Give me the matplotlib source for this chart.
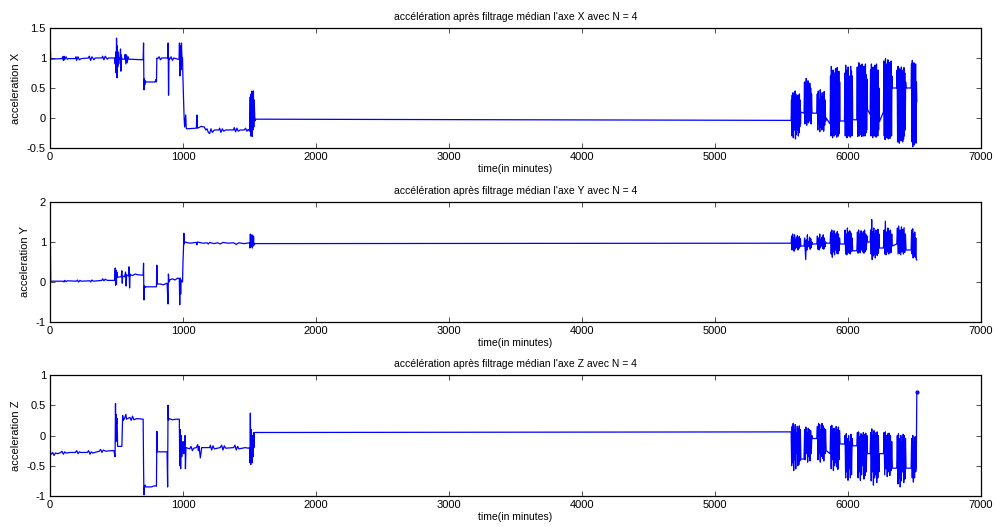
import numpy as np
import matplotlib
matplotlib.use("Agg")
import matplotlib.pyplot as plt

plt.rcParams['font.family'] = ['Liberation Sans', 'DejaVu Sans']

# early part of the recording (time in minutes, value)
x_time = [0, 2, 5, 90, 95, 100, 105, 110, 120, 130, 140, 190, 195, 200, 210, 220, 235,
          290, 295, 305, 315, 330, 340, 390, 395, 405, 415, 430, 440,
          485, 490, 494, 497, 500, 503, 506, 509, 512, 516, 520, 525, 530, 533, 536, 540,
          560, 565, 570, 575, 580, 586, 592, 700, 703, 706, 709, 712, 716, 720, 760, 790,
          795, 800, 803, 810, 820, 830, 840, 885, 888, 891, 894, 900, 910, 920, 930, 960,
          970, 973, 976, 980, 984, 988, 992, 996, 1000, 1004, 1008, 1012, 1016, 1020, 1024,
          1030, 1100, 1104, 1108, 1120, 1135, 1160, 1170, 1180, 1190, 1200, 1210, 1220, 1235,
          1270, 1275, 1285, 1295, 1305, 1320, 1380, 1385, 1395, 1405, 1415, 1430,
          1460, 1470, 1480, 1490, 1500, 1505, 1508, 1511, 1514, 1517, 1520, 1523, 1526,
          1529, 1532, 1535, 1540, 1545]
x_accel = [0.0, 1.2, 0.98, 0.99, 1.02, 0.96, 1.03, 0.97, 1.02, 0.98, 0.99, 0.99, 1.02, 0.96, 1.02, 0.97, 0.99,
           1.0, 1.03, 0.96, 1.02, 0.97, 1.0, 1.0, 1.03, 0.97, 1.03, 0.98, 1.0,
           1.0, 0.9, 1.1, 0.75, 1.33, 0.67, 1.2, 0.85, 1.1, 0.9, 1.0, 0.98, 1.15, 0.78, 1.05, 0.98,
           0.98, 1.06, 0.9, 1.05, 0.92, 1.02, 0.98, 0.97, 1.25, 0.47, 0.65, 0.55, 0.62, 0.6, 0.6, 0.6,
           0.64, 0.6, 1.0, 0.99, 1.02, 0.97, 1.0, 1.0, 1.25, 0.38, 1.0, 0.98, 1.02, 0.96, 1.0, 0.98,
           0.98, 1.25, 0.7, 1.2, 0.8, 1.25, 0.98, 1.0, 0.6, 0.3, 0.0, -0.15, -0.05, 0.05, -0.17,
           -0.18, -0.17, 0.05, -0.17, -0.16, -0.14, -0.15, -0.2, -0.18, -0.24, -0.26, -0.18, -0.24, -0.2,
           -0.2, -0.17, -0.24, -0.18, -0.22, -0.2, -0.2, -0.16, -0.23, -0.17, -0.22, -0.2,
           -0.2, -0.17, -0.22, -0.19, -0.22, 0.35, -0.3, 0.4, -0.25, 0.45, -0.31, 0.42, -0.2,
           0.45, -0.15, 0.3, -0.05, -0.02]

y_time = [0, 2, 5, 100, 105, 110, 120, 130, 200, 205, 215, 225, 235, 300, 305, 315, 325,
          390, 395, 405, 415, 430, 485, 490, 493, 496, 499, 502, 505, 535,
          540, 543, 546, 560, 568, 572, 576, 590, 594, 598, 602, 606, 620, 640, 660, 700,
          703, 706, 710, 714, 720, 790, 800, 803, 806, 830, 850, 880, 887, 890, 894, 900,
          920, 940, 960, 972, 975, 978, 982, 986, 996, 1000, 1003, 1006, 1009, 1012, 1050,
          1100, 1104, 1108, 1150, 1180, 1190, 1200, 1230, 1260, 1280, 1300, 1340, 1380, 1400,
          1420, 1460, 1500, 1503, 1506, 1509, 1512, 1515, 1518, 1521, 1524, 1527, 1530, 1533,
          1540, 1545]
y_accel = [0.0, 1.1, 0.02, 0.02, 0.0, 0.04, 0.01, 0.03, 0.02, 0.05, 0.0, 0.04, 0.02, 0.03, 0.0, 0.05, 0.02,
           0.04, 0.08, 0.03, 0.07, 0.04, 0.04, 0.35, -0.08, 0.3, -0.05, 0.25, 0.12, 0.13,
           0.28, -0.03, 0.15, 0.13, 0.25, -0.1, 0.18, 0.15, 0.38, -0.15, 0.2, 0.18, 0.16, 0.2, 0.18, 0.17,
           0.47, -0.45, -0.1, -0.14, -0.12, -0.12, -0.12, 0.42, -0.05, -0.05, -0.07, -0.03, -0.55, 0.2, 0.0, 0.05,
           0.08, 0.05, 0.1, 0.08, -0.57, 0.1, -0.3, 0.05, 0.0, 0.55, 0.8, 1.22, 0.95, 1.0, 0.97,
           0.99, 0.93, 1.0, 0.97, 0.98, 0.95, 0.99, 0.96, 0.98, 0.95, 0.99, 0.97, 0.98, 0.94,
           0.98, 0.96, 0.98, 0.85, 1.2, 0.88, 1.15, 0.9, 1.18, 0.85, 1.1, 0.9, 1.15, 0.92,
           0.96, 0.96]

z_time = [0, 3, 10, 20, 30, 40, 60, 80, 90, 100, 110, 120, 150, 190, 200, 210, 220, 230,
          280, 290, 300, 310, 320, 370, 380, 390, 400, 420, 460, 480,
          489, 492, 495, 498, 501, 504, 508, 540, 546, 550, 560, 570, 575, 600, 610, 620, 630, 650, 700,
          703, 706, 710, 715, 720, 760, 790, 800, 803, 806, 840, 880, 884, 887, 890, 895, 920, 950, 972,
          975, 978, 982, 986, 990, 995, 1000, 1005, 1010, 1015, 1018, 1022, 1050, 1060, 1070, 1080,
          1100, 1110, 1115, 1120, 1130, 1140, 1200, 1205, 1215, 1225, 1235, 1280, 1290, 1300, 1310,
          1320, 1380, 1390, 1400, 1410, 1420, 1470, 1490, 1500,
          1503, 1506, 1509, 1512, 1515, 1518, 1521, 1524, 1527, 1530, 1533, 1536, 1545]
z_accel = [0.33, -0.3, -0.31, -0.28, -0.33, -0.29, -0.3, -0.28, -0.26, -0.31, -0.27, -0.29, -0.28, -0.28, -0.25, -0.3, -0.27, -0.28,
           -0.28, -0.25, -0.31, -0.27, -0.29, -0.26, -0.23, -0.28, -0.24, -0.26, -0.25, -0.25,
           -0.35, 0.53, -0.1, 0.35, 0.2, 0.28, -0.18, -0.18, 0.33, 0.25, 0.28, 0.35, 0.27, 0.3, 0.25, 0.32, 0.26, 0.28, 0.27,
           -0.5, -0.98, -0.85, -0.82, -0.85, -0.85, -0.83, -0.84, 0.07, -0.27, -0.27, -0.27, -0.85, 0.5, 0.25, 0.28, 0.26, 0.27, 0.27,
           -0.5, 0.1, -0.55, 0.0, -0.35, -0.2, -0.1, -0.3, -0.2, 0.0, -0.55, -0.2, -0.22, -0.18, -0.25, -0.21,
           -0.2, -0.15, -0.25, -0.18, -0.37, -0.2, -0.2, -0.16, -0.24, -0.17, -0.22, -0.2, -0.16, -0.24, -0.17,
           -0.21, -0.2, -0.16, -0.24, -0.18, -0.22, -0.2, -0.21, -0.2,
           -0.45, 0.37, -0.48, 0.1, -0.4, -0.1, -0.45, 0.0, -0.35, 0.05, -0.2, 0.05, 0.05]

# second recording session: bursts of activity (start / end time, minutes)
burst_start = [5572, 5669, 5765, 5865, 5973, 6066, 6166, 6266, 6366, 6474]
burst_end = [5645, 5732, 5835, 5940, 6035, 6146, 6236, 6333, 6436, 6517]

x_bursts = [
    [-0.04, 0.3, -0.3, 0.38, -0.25, 0.42, -0.33, 0.2, -0.15, 0.35, -0.2, 0.45, -0.35, 0.4,
     -0.28, 0.3, -0.1, 0.35, -0.2, 0.38, -0.3, 0.25, -0.25, 0.4, -0.15, 0.3, -0.1, 0.1],
    [0.08, 0.6, -0.1, 0.5, 0.0, 0.66, -0.12, 0.55, 0.05, 0.62, -0.08, 0.45, -0.05, 0.58,
     0.0, 0.5, -0.1, 0.4, 0.1, 0.08],
    [0.08, 0.4, -0.2, 0.45, -0.1, 0.3, -0.23, 0.47, -0.15, 0.35, -0.2, 0.42, -0.18, 0.38,
     -0.22, 0.44, -0.12, 0.3, -0.05, 0.0],
    [-0.1, 0.7, -0.3, 0.86, -0.2, 0.6, -0.33, 0.8, -0.25, 0.5, -0.3, 0.75, -0.2, 0.82,
     -0.28, 0.6, -0.32, 0.84, -0.22, 0.7, -0.3, 0.78, -0.26, 0.6, -0.05],
    [-0.05, 0.75, -0.3, 0.88, -0.25, 0.7, -0.33, 0.8, -0.2, 0.85, -0.3, 0.6, -0.28, 0.7,
     -0.32, 0.86, -0.24, 0.78, -0.3, 0.7, -0.03],
    [-0.03, 0.85, -0.31, 0.7, -0.25, 0.92, -0.3, 0.8, -0.2, 0.88, -0.28, 0.75, -0.31, 0.9,
     -0.22, 0.6, -0.3, 0.86, -0.27, 0.8, -0.3, 0.9, -0.25, 0.72, -0.2, 0.65, 0.14],
    [0.06, 0.8, -0.3, 0.9, -0.25, 0.7, -0.33, 0.85, -0.2, 0.75, -0.3, 0.88, -0.25, 0.82,
     -0.32, 0.9, -0.28, 0.7, -0.3, 0.8, -0.2, 0.5, -0.06],
    [0.1, 0.95, -0.3, 0.8, -0.36, 0.99, -0.25, 0.9, -0.33, 0.85, -0.2, 0.97, -0.35, 0.7,
     -0.3, 0.92, -0.34, 0.88, -0.28, 0.95, -0.3, 0.7, 0.5],
    [0.5, 0.8, -0.4, 0.86, -0.3, 0.7, -0.42, 0.82, -0.35, 0.75, -0.38, 0.85, -0.25, 0.6,
     -0.4, 0.8, -0.36, 0.84, -0.3, 0.75, -0.2, 0.6, 0.5],
    [0.5, 0.9, -0.4, 0.96, -0.48, 0.85, -0.3, 0.92, -0.45, 0.88, -0.35, 0.9, -0.42, 0.6, 0.27],
]
y_bursts = [
    [0.97, 1.15, 0.8, 1.2, 0.85, 1.1, 0.77, 1.18, 0.82, 1.05, 0.9, 1.12, 0.85, 1.16, 0.8,
     1.1, 0.84, 1.14, 0.88, 1.08, 0.9],
    [0.9, 1.1, 0.85, 0.56, 1.05, 0.8, 1.18, 0.88, 1.0, 0.9, 1.12, 0.82, 1.08, 0.86, 1.0, 0.95],
    [0.95, 1.15, 0.82, 1.1, 0.8, 1.2, 0.85, 1.05, 0.9, 1.12, 0.84, 1.18, 0.82, 1.1, 0.88,
     1.0, 0.97],
    [0.97, 1.25, 0.7, 1.3, 0.62, 1.2, 0.75, 1.28, 0.68, 1.15, 0.8, 1.22, 0.72, 1.26, 0.7,
     1.2, 0.78, 1.1, 0.95],
    [0.95, 1.3, 0.7, 1.2, 0.68, 1.35, 0.75, 1.25, 0.72, 1.28, 0.7, 1.22, 0.76, 1.1, 0.78],
    [0.78, 1.25, 0.72, 1.3, 0.75, 1.2, 0.73, 1.28, 0.8, 1.22, 0.75, 1.26, 0.72, 1.3, 0.76,
     1.2, 0.8, 1.15, 1.0],
    [1.0, 1.3, 0.7, 1.56, 0.56, 1.25, 0.65, 1.35, 0.7, 1.2, 0.6, 1.3, 0.68, 1.28, 0.66,
     1.32, 0.72, 1.2, 0.85],
    [0.85, 1.3, 0.7, 1.52, 0.68, 1.25, 0.75, 1.35, 0.7, 1.28, 0.72, 1.3, 0.74, 1.2, 0.9],
    [0.95, 1.35, 0.7, 1.4, 0.72, 1.3, 0.68, 1.38, 0.75, 1.32, 0.7, 1.36, 0.74, 1.2, 0.8],
    [0.8, 1.3, 0.7, 1.33, 0.6, 1.2, 0.65, 1.25, 0.62, 1.1, 0.56, 0.55],
]
z_bursts = [
    [0.06, -0.5, 0.15, -0.45, 0.2, -0.58, 0.1, -0.4, 0.18, -0.55, 0.05, -0.3, 0.15, -0.5,
     0.12, -0.48, 0.16, -0.42, 0.1, -0.39],
    [-0.39, 0.1, -0.4, 0.14, -0.3, 0.05, -0.44, 0.12, -0.35, 0.1, -0.42, 0.08, -0.3, 0.0, -0.05],
    [-0.05, 0.15, -0.4, 0.2, -0.3, 0.18, -0.44, 0.1, -0.35, 0.2, -0.38, 0.16, -0.42, 0.12,
     -0.3, 0.1, -0.25],
    [-0.3, 0.15, -0.55, 0.17, -0.4, 0.1, -0.58, 0.12, -0.5, 0.05, -0.45, 0.15, -0.52, 0.1,
     -0.56, 0.14, -0.4, 0.08, -0.14],
    [-0.14, 0.0, -0.7, 0.03, -0.6, -0.05, -0.74, 0.0, -0.55, -0.1, -0.7, 0.02, -0.65, -0.05, -0.17],
    [-0.17, 0.05, -0.7, 0.06, -0.6, -0.02, -0.74, 0.03, -0.65, 0.0, -0.5, 0.05, -0.72, 0.02,
     -0.66, 0.04, -0.6, 0.0, -0.3],
    [-0.3, 0.05, -0.75, 0.11, -0.6, 0.0, -0.82, 0.08, -0.7, 0.02, -0.65, 0.05, -0.78, 0.06,
     -0.7, 0.0, -0.6, -0.3],
    [-0.3, 0.05, -0.65, 0.06, -0.55, 0.0, -0.68, 0.03, -0.6, 0.04, -0.66, 0.0, -0.58, -0.1, -0.54],
    [-0.54, 0.0, -0.8, 0.03, -0.7, -0.05, -0.85, 0.0, -0.75, -0.1, -0.6, 0.02, -0.78, 0.0,
     -0.72, -0.05, -0.54],
    [-0.54, -0.05, -0.7, 0.0, -0.77, -0.1, -0.7, -0.02, -0.6, -0.5, 0.72],
]

titles = ["accélération après filtrage médian l'axe X avec N = 4",
          "accélération après filtrage médian l'axe Y avec N = 4",
          "accélération après filtrage médian l'axe Z avec N = 4"]
ylabels = ["acceleration X", "acceleration Y", "acceleration Z"]
yticks = [[-0.5, 0, 0.5, 1, 1.5], [-1, 0, 1, 2], [-1, -0.5, 0, 0.5, 1]]
xticks = [0, 1000, 2000, 3000, 4000, 5000, 6000, 7000]


def build(t_early, v_early, bursts):
    t = list(t_early)
    v = list(v_early)
    for t0, t1, vals in zip(burst_start, burst_end, bursts):
        t.extend(np.linspace(t0, t1, len(vals)))
        v.extend(vals)
    return np.array(t), np.array(v)


series = [build(x_time, x_accel, x_bursts),
          build(y_time, y_accel, y_bursts),
          build(z_time, z_accel, z_bursts)]

fig = plt.figure(figsize=(9.95, 5.27), dpi=100)
positions = [[0.0503, 0.7192, 0.9357, 0.2277],
             [0.0503, 0.3890, 0.9357, 0.2277],
             [0.0503, 0.0588, 0.9357, 0.2296]]

for i in range(3):
    ax = fig.add_axes(positions[i])
    t, v = series[i]
    ax.plot(t, v, color='#0000ff', linewidth=0.9)
    if i == 2:
        # last sample marked
        ax.plot(t[-1:], v[-1:], '.', color='#0000ff', markersize=4)
    ax.set_xlim(0, 7000)
    ax.set_ylim(yticks[i][0], yticks[i][-1])
    ax.set_xticks(xticks)
    ax.set_yticks(yticks[i])
    ax.set_yticklabels([('%g' % y) for y in yticks[i]])
    ax.tick_params(direction='in', top=True, right=True, length=3.5, width=0.6,
                   labelsize=8, pad=3, color='#333333')
    for s in ax.spines.values():
        s.set_linewidth(0.9)
    ax.set_title(titles[i], fontsize=7.5, pad=6)
    ax.set_xlabel("time(in minutes)", fontsize=7.5, labelpad=1)
    ax.set_ylabel(ylabels[i], fontsize=8, labelpad=4)

fig.savefig("out.png", dpi=100)
